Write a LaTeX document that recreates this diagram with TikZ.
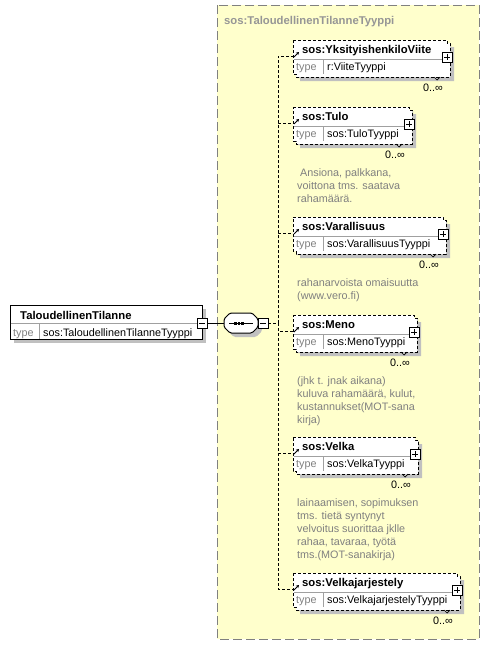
\documentclass[tikz,border=0pt]{standalone}
\usepackage{fontspec}
\setmainfont{Liberation Sans}
\usetikzlibrary{arrows.meta}
\definecolor{bgyellow}{HTML}{FFFFCC}
\definecolor{shadowgray}{HTML}{C0C0C0}
\definecolor{textgray}{HTML}{808080}
\definecolor{titlegray}{HTML}{969696}
\definecolor{sepgray}{HTML}{A0A0A0}
\definecolor{framegray}{HTML}{808080}
\tikzset{
 regtext/.style={font=\fontsize{10.8}{13}\selectfont, inner sep=0pt, anchor=base west},
 hdrtext/.style={font=\fontsize{11.3}{13}\selectfont\bfseries, inner sep=0pt, anchor=base west},
 typelbl/.style={regtext, text=textgray},
 typeval/.style={regtext},
 occtext/.style={regtext, anchor=base east},
 desctext/.style={regtext, text=textgray},
 elemline/.style={line width=1pt, dash pattern=on 3pt off 2pt},
 sepline/.style={line width=0.8pt, sepgray},
 conn/.style={line width=1pt, dash pattern=on 3pt off 2pt},
 refarrow/.style={line width=0.9pt, -{Stealth[length=3pt,width=3.5pt]}},
 minusbox/.style={draw, fill=white, line width=0.8pt, minimum size=10pt, inner sep=0pt,
   path picture={\draw[line width=0.8pt] ([xshift=2pt]path picture bounding box.west) -- ([xshift=-2pt]path picture bounding box.east);}},
 plusbox/.style={draw, fill=white, line width=0.8pt, minimum size=10pt, inner sep=0pt,
   path picture={\draw[line width=0.8pt] ([xshift=2pt]path picture bounding box.west) -- ([xshift=-2pt]path picture bounding box.east);
     \draw[line width=0.8pt] ([yshift=-2pt]path picture bounding box.north) -- ([yshift=2pt]path picture bounding box.south);}},
}
% #1 id, #2 left, #3 top, #4 right, #5 name, #6 type
\newcommand\xelem[6]{%
 \coordinate (#1) at (#2,{#3+16});
 \draw[conn] (spine) |- (#1);
 \fill[shadowgray] ({#2+4},{#3+4}) -- ({#4+1},{#3+4}) -- ({#4+1},{#3+7}) -- ({#4+4},{#3+7}) -- ({#4+4},{#3+41}) -- ({#2+7},{#3+41}) -- ({#2+7},{#3+38}) -- ({#2+4},{#3+38}) -- cycle;
 \filldraw[fill=white, elemline] (#2,#3) -- ({#4-3},#3) -- ({#4-3},{#3+3}) -- (#4,{#3+3}) -- (#4,{#3+37}) -- ({#2+3},{#3+37}) -- ({#2+3},{#3+34}) -- (#2,{#3+34}) -- cycle;
 \draw[sepline] ({#2+0.5},{#3+19}) -- ({#4-0.5},{#3+19});
 \draw[sepline] ({#2+30},{#3+19}) -- ({#2+30},{#3+34});
 \node[hdrtext] (#1-name) at ({#2+9},{#3+13}) {#5};
 \node[typelbl] (#1-tl) at ({#2+3},{#3+30}) {type};
 \node[typeval] (#1-tv) at ({#2+34},{#3+30}) {#6};
 \node[plusbox] (#1-plus) at ({#4-3},{#3+17}) {};
 \node[occtext] (#1-occ) at ({#4-7},{#3+51}) {0..∞};
 \draw[line width=0.7pt] ({#4-16},{#3+37}) -- ({#4-13},{#3+40}) -- ({#4-10},{#3+37});
 \draw[refarrow] ({#2+1},{#3+17}) -- ({#2+6},{#3+12});
}
\newcommand\xdesc[3]{\foreach \t [count=\i] in {#3} {\node[desctext] (#1-\i) at (297,{#2+13*(\i-1)}) {\t};}}
\begin{document}
\begin{tikzpicture}[x=1pt,y=-1pt]
\useasboundingbox (0,0) rectangle (490,645);
\fill[white] (0,0) rectangle (490,645);
\filldraw[fill=bgyellow, draw=framegray, line width=1pt, dash pattern=on 9pt off 4pt] (217,5) rectangle (479,639);
\node[hdrtext, text=titlegray] (title) at (224,24) {sos:TaloudellinenTilanneTyyppi};

% root element
\fill[shadowgray] (14,309) rectangle (206,343);
\draw[fill=white, line width=1pt] (10,305) rectangle (202,339);
\draw[sepline] (10.5,323) -- (201.5,323);
\draw[sepline] (39,323) -- (39,338.5);
\node[hdrtext] (root-name) at (20,319) {TaloudellinenTilanne};
\node[typelbl] (root-tl) at (13,336) {type};
\node[typeval] (root-tv) at (43,336) {sos:TaloudellinenTilanneTyyppi};

% sequence compositor
\fill[shadowgray, rounded corners=1.5pt] (234,317) -- (256,317) -- (262,323) -- (262,331) -- (256,337) -- (234,337) -- (228,331) -- (228,323) -- cycle;
\draw[fill=white, line width=1pt, rounded corners=1.5pt] (230,313) -- (252,313) -- (258,319) -- (258,327) -- (252,333) -- (230,333) -- (224,327) -- (224,319) -- cycle;
\node[inner sep=0pt, minimum width=34pt, minimum height=20pt] (seq) at (241,323) {};
\draw[line width=0.8pt] (229,323) -- (253,323);
\fill (234,321.5) rectangle (236.6,324.5);
\fill (237.7,321.5) rectangle (240.3,324.5);
\fill (241.4,321.5) rectangle (244,324.5);
\node[minusbox] (rootminus) at (202,323) {};
\node[minusbox] (seqminus) at (263,323) {};
\draw[line width=1pt] (rootminus.east) -- (seq.west);
\coordinate (spine) at (278,323);
\draw[conn] (seqminus.east) -- (spine);

\xelem{e1}{293}{40}{450}{sos:YksityishenkiloViite}{r:ViiteTyyppi}
\xelem{e2}{293}{107}{412}{sos:Tulo}{sos:TuloTyyppi}
\xelem{e3}{293}{217}{446}{sos:Varallisuus}{sos:VarallisuusTyyppi}
\xelem{e4}{293}{315}{417}{sos:Meno}{sos:MenoTyyppi}
\xelem{e5}{293}{437}{418}{sos:Velka}{sos:VelkaTyyppi}
\xelem{e6}{293}{573}{460}{sos:Velkajarjestely}{sos:VelkajarjestelyTyyppi}

\xdesc{d2}{176}{{~Ansiona, palkkana,},{voittona tms. saatava},{rahamäärä.}}
\xdesc{d3}{286}{{rahanarvoista omaisuutta},{(www.vero.fi)}}
\xdesc{d4}{384}{{(jhk t. jnak aikana)},{kuluva rahamäärä, kulut,},{kustannukset(MOT-sana},{kirja)}}
\xdesc{d5}{506}{{lainaamisen, sopimuksen},{tms. tietä syntynyt},{velvoitus suorittaa jklle},{rahaa, tavaraa, työtä},{tms.(MOT-sanakirja)}}
\end{tikzpicture}
\end{document}
